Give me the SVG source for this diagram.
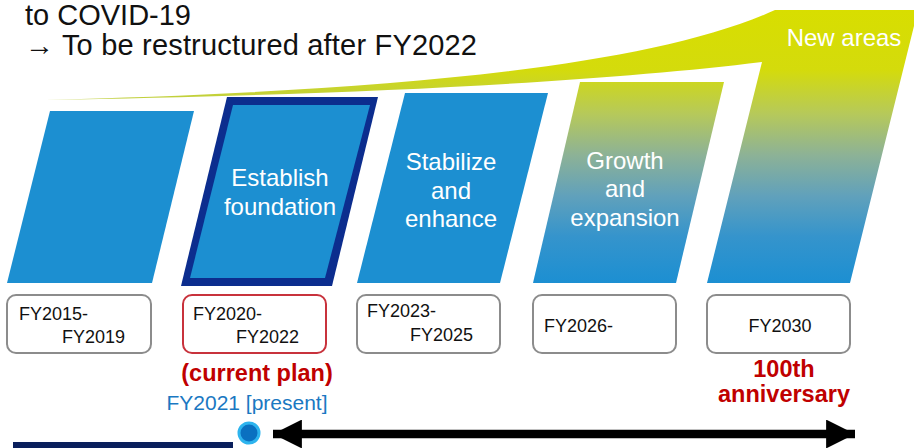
<svg xmlns="http://www.w3.org/2000/svg" width="914" height="448" viewBox="0 0 914 448">
  <style>
    .title { font-family: "Liberation Sans", Arial, sans-serif; font-size: 29px; fill: #111; }
    .phase { font-family: "Liberation Sans", Arial, sans-serif; font-size: 24px; fill: #ffffff; text-anchor: middle; }
    .box { fill: #ffffff; stroke: #8c8c8c; stroke-width: 2; }
    .box-current { fill: #ffffff; stroke: #c8323c; stroke-width: 2; }
    .yr { font-family: "Liberation Sans", Arial, sans-serif; font-size: 18px; fill: #111; }
    .note { font-family: "Liberation Sans", Arial, sans-serif; font-weight: bold; fill: #c00000; text-anchor: middle; }
    .present { font-family: "Liberation Sans", Arial, sans-serif; font-size: 21px; fill: #1a78c2; text-anchor: middle; }
    .blue { fill: #1c8fd1; }
  </style>
  <defs>
    <linearGradient id="growGrad" gradientUnits="userSpaceOnUse" x1="0" y1="10" x2="0" y2="283">
      <stop offset="0" stop-color="#d8de00"/>
      <stop offset="0.22" stop-color="#d4db0c"/>
      <stop offset="0.38" stop-color="#b6c95a"/>
      <stop offset="0.53" stop-color="#8db296"/>
      <stop offset="0.68" stop-color="#61a1bb"/>
      <stop offset="0.83" stop-color="#3594cc"/>
      <stop offset="1" stop-color="#1c8fd2"/>
    </linearGradient>
    <marker id="arrowHead" viewBox="0 0 10 10" refX="10" refY="5" markerWidth="3.4" markerHeight="3.4" markerUnits="strokeWidth" orient="auto-start-reverse">
      <path d="M0,0 L10,5 L0,10 Z" fill="#000"/>
    </marker>
  </defs>

  <!-- heading -->
  <g id="heading">
    <text class="title" x="25" y="25">to COVID-19</text>
    <text class="title" x="25" y="54.5" textLength="452" lengthAdjust="spacing">→ To be restructured after FY2022</text>
  </g>

  <!-- phase shapes -->
  <g id="phase-2015">
    <polygon class="blue" points="50,111 194,111 152,283 7,283"/>
  </g>

  <g id="phase-2020">
    <polygon fill="#0c2d8e" points="227,97 378,97 332,286 181,286"/>
    <polygon class="blue" points="233,105 370,105 325,278 190,278"/>
    <text class="phase" x="280" y="186">Establish</text>
    <text class="phase" x="280" y="215">foundation</text>
  </g>

  <g id="phase-2023">
    <polygon class="blue" points="405,93 548,93 500,283 357,283"/>
    <text class="phase" x="451" y="170">Stabilize</text>
    <text class="phase" x="451" y="199">and</text>
    <text class="phase" x="451" y="227">enhance</text>
  </g>

  <g id="phase-2026">
    <polygon fill="url(#growGrad)" points="580,82 724,82 676,283 533,283"/>
    <text class="phase" x="625" y="169">Growth</text>
    <text class="phase" x="625" y="197">and</text>
    <text class="phase" x="625" y="226">expansion</text>
  </g>

  <g id="phase-2030">
    <path fill="url(#growGrad)" d="M45,100 C350,92 640,72 775,10 L918,10 L850,283 L707,283 L762,62 C600,82 350,95 45,100 Z"/>
    <text class="phase" x="844" y="46">New areas</text>
  </g>

  <!-- period labels -->
  <g id="label-2015">
    <rect class="box" x="7" y="295" width="144" height="58" rx="9"/>
    <text class="yr" x="19" y="320">FY2015-</text>
    <text class="yr" x="62" y="343">FY2019</text>
  </g>
  <g id="label-2020">
    <rect class="box-current" x="183" y="295" width="143" height="58" rx="9"/>
    <text class="yr" x="193" y="320">FY2020-</text>
    <text class="yr" x="236" y="343">FY2022</text>
    <text class="note" x="257" y="381" font-size="23.5">(current plan)</text>
  </g>
  <g id="label-2023">
    <rect class="box" x="357" y="295" width="143" height="58" rx="9"/>
    <text class="yr" x="367" y="317">FY2023-</text>
    <text class="yr" x="410" y="341">FY2025</text>
  </g>
  <g id="label-2026">
    <rect class="box" x="533" y="295" width="143" height="58" rx="9"/>
    <text class="yr" x="544" y="332">FY2026-</text>
  </g>
  <g id="label-2030">
    <rect class="box" x="707" y="295" width="143" height="58" rx="9"/>
    <text class="yr" x="780" y="332" text-anchor="middle">FY2030</text>
    <text class="note" x="784" y="377" font-size="23.5">100th</text>
    <text class="note" x="784" y="402" font-size="23.5">anniversary</text>
  </g>

  <!-- present marker -->
  <g id="present">
    <text class="present" x="247" y="410">FY2021 [present]</text>
    <rect x="13" y="442" width="220" height="6" fill="#0a1f5c"/>
    <circle cx="249" cy="433" r="10" fill="#0a70c0" stroke="#2db4ee" stroke-width="3"/>
  </g>

  <!-- timeline connector -->
  <g id="connectors">
    <line x1="273" y1="434" x2="855" y2="434" stroke="#000" stroke-width="8.5" marker-start="url(#arrowHead)" marker-end="url(#arrowHead)"/>
  </g>
</svg>
